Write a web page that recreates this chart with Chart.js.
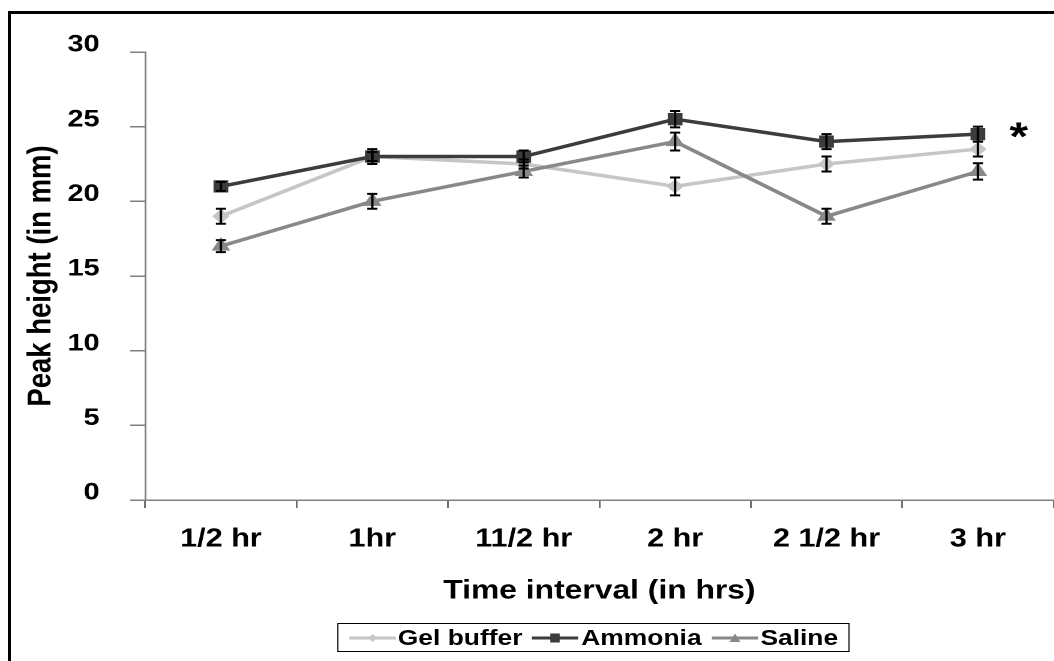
<!DOCTYPE html>
<html>
<head>
<meta charset="utf-8">
<script src="https://cdn.jsdelivr.net/npm/chart.js@4"></script>
<style>
  html, body { margin: 0; padding: 0; background: #fff; overflow: hidden; }
  body { width: 1054px; height: 661px; position: relative; font-family: "Liberation Sans", Arial, sans-serif; }
  #frame { position: absolute; left: 8px; top: 11px; width: 1100px; height: 700px; border: 3px solid #000; }
  #wrap { position: absolute; left: 0; top: 0; width: 878px; height: 661px; transform: scaleX(1.2); transform-origin: 0 0; }
  #legend { position: absolute; left: 281px; top: 623px; width: 427px; height: 29px; border: 1.5px solid #000; box-sizing: border-box;
            display: flex; align-items: center; justify-content: center; font: bold 22px "Liberation Sans", Arial, sans-serif; color: #000; }
  #legend .item { display: flex; align-items: center; margin: 0 4px; }
  #legend svg { margin-right: 2px; }
</style>
</head>
<body>
<div id="frame"></div>
<div id="wrap">
  <canvas id="line-chart"></canvas>
  <div id="legend"></div>
</div>
<script>
var categories = ["1/2 hr", "1hr", "11/2 hr", "2 hr", "2 1/2 hr", "3 hr"];
var seriesNames = ["Gel buffer", "Ammonia", "Saline"];
var gelBuffer = [19, 23, 22.5, 21, 22.5, 23.5];
var ammonia = [21, 23, 23, 25.5, 24, 24.5];
var saline = [17, 20, 22, 24, 19, 22];
var gelBufferErr = [0.5, 0.3, 0.3, 0.6, 0.5, 0.5];
var ammoniaErr = [0.3, 0.5, 0.4, 0.55, 0.5, 0.5];
var salineErr = [0.4, 0.5, 0.4, 0.6, 0.5, 0.55];
var yTicks = [0, 5, 10, 15, 20, 25, 30];

var colors = ["#c6c6c6", "#3c3c3c", "#888888"];
var shapes = ["rectRot", "rect", "triangle"];
var FONT = "'Liberation Sans', Arial, sans-serif";

// error bars drawn on top of each point
var errorBars = {
  id: "errorBars",
  afterDatasetsDraw: function (chart) {
    var ctx = chart.ctx, y = chart.scales.y;
    ctx.save();
    ctx.strokeStyle = "#000";
    ctx.lineWidth = 2;
    chart.data.datasets.forEach(function (ds, i) {
      var meta = chart.getDatasetMeta(i);
      meta.data.forEach(function (pt, j) {
        var v = ds.data[j], e = ds.errors[j];
        var top = y.getPixelForValue(v + e), bot = y.getPixelForValue(v - e);
        ctx.beginPath();
        ctx.moveTo(pt.x, top); ctx.lineTo(pt.x, bot);
        ctx.moveTo(pt.x - 4.2, top); ctx.lineTo(pt.x + 4.2, top);
        ctx.moveTo(pt.x - 4.2, bot); ctx.lineTo(pt.x + 4.2, bot);
        ctx.stroke();
      });
    });
    ctx.restore();
  }
};

// the significance star next to the last Ammonia point
var star = {
  id: "star",
  afterDraw: function (chart) {
    var meta = chart.getDatasetMeta(1);
    var pt = meta.data[meta.data.length - 1];
    var ctx = chart.ctx;
    ctx.save();
    ctx.font = "bold 40px " + FONT;
    ctx.fillStyle = "#000";
    ctx.textAlign = "center";
    ctx.textBaseline = "alphabetic";
    ctx.fillText("*", pt.x + 34, pt.y + 16);
    ctx.restore();
  }
};

function makeSet(i, data, errs) {
  return {
    label: seriesNames[i],
    data: data,
    errors: errs,
    borderColor: colors[i],
    backgroundColor: colors[i],
    borderWidth: 3.5,
    pointStyle: shapes[i],
    pointRadius: i === 0 ? 6.5 : 8,
    pointBorderWidth: 1,
    pointBorderColor: colors[i],
    pointBackgroundColor: colors[i],
    tension: 0,
    order: 3 - i
  };
}

new Chart(document.getElementById("line-chart"), {
  type: "line",
  data: {
    labels: categories,
    datasets: [
      makeSet(0, gelBuffer, gelBufferErr),
      makeSet(1, ammonia, ammoniaErr),
      makeSet(2, saline, salineErr)
    ]
  },
  plugins: [errorBars, star],
  options: {
    responsive: true,
    maintainAspectRatio: false,
    devicePixelRatio: 2,
    animation: false,
    layout: { autoPadding: false, padding: { left: 0, right: 0, top: 52, bottom: 51 } },
    plugins: { legend: { display: false }, tooltip: { enabled: false } },
    scales: {
      x: {
        offset: true,
        afterFit: function (s) { s.height = 110; s.paddingLeft = 0; s.paddingRight = 0; },
        grid: { offset: true, drawOnChartArea: false, drawTicks: true, tickLength: 8, color: "#707070", lineWidth: 1.5 },
        border: { color: "#808080", width: 1.5 },
        ticks: { color: "#000", padding: 16, font: { family: FONT, size: 25.5, weight: "bold" }, maxRotation: 0 },
        title: { display: true, text: "Time interval (in hrs)", color: "#000",
                 font: { family: FONT, size: 26.5, weight: "bold" }, padding: { top: 0, bottom: 3 } }
      },
      y: {
        min: 0, max: 30,
        afterFit: function (s) { s.width = 121; },
        afterBuildTicks: function (s) { s.ticks = yTicks.map(function (v) { return { value: v }; }); },
        grid: { drawOnChartArea: false, drawTicks: true, tickLength: 12.5, color: "#808080", lineWidth: 1.5 },
        border: { color: "#808080", width: 1.5 },
        ticks: { color: "#000", padding: 25.5, labelOffset: -7, font: { family: FONT, size: 24, weight: "bold" } },
        title: { display: true, text: "Peak height (in mm)", color: "#000",
                 font: { family: FONT, size: 27.5, weight: "bold" }, padding: { top: 18, bottom: 0 } }
      }
    }
  }
});

// legend: line sample with marker, then the name
var legend = document.getElementById("legend");
seriesNames.forEach(function (name, i) {
  var c = colors[i], mk;
  if (shapes[i] === "rectRot") mk = '<polygon points="19.5,6 23,10 19.5,14 16,10" fill="' + c + '"/>';
  else if (shapes[i] === "rect") mk = '<rect x="15.5" y="5.5" width="8" height="9" fill="' + c + '"/>';
  else mk = '<polygon points="19.5,5.5 24,14 15,14" fill="' + c + '"/>';
  var item = document.createElement("div");
  item.className = "item";
  item.innerHTML = '<svg width="39" height="20"><line x1="0" y1="10" x2="39" y2="10" stroke="' + c + '" stroke-width="3"/>' + mk + '</svg><span>' + name + '</span>';
  legend.appendChild(item);
});
</script>
</body>
</html>
